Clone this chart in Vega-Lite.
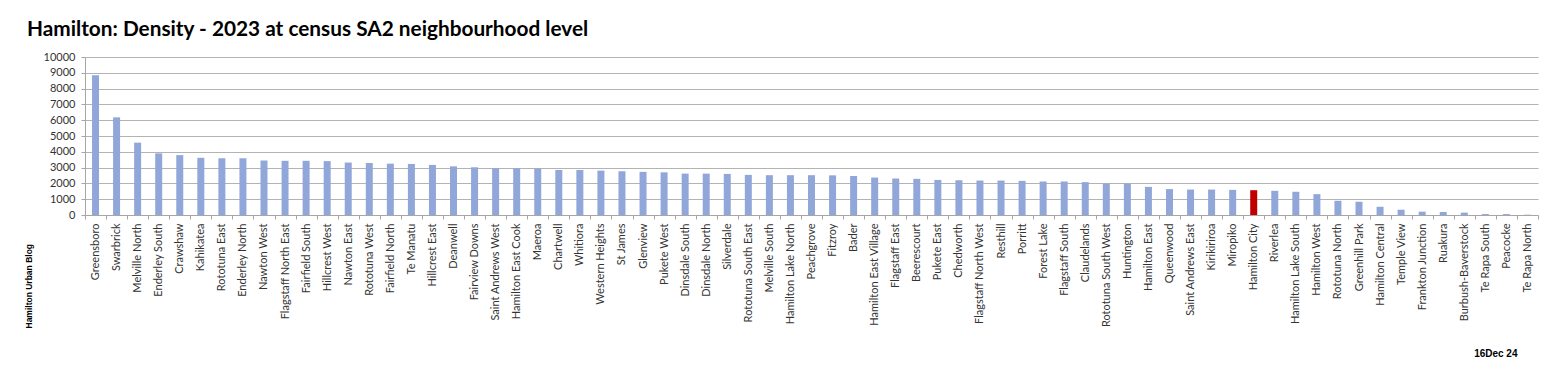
{
  "$schema": "https://vega.github.io/schema/vega-lite/v6.json",
  "width": 1453,
  "height": 158,
  "autosize": {"type": "none"},
  "padding": {"left": 85, "top": 57, "right": 21, "bottom": 161},
  "background": "white",
  "title": {
    "text": "Hamilton: Density - 2023 at census SA2 neighbourhood level",
    "anchor": "start",
    "frame": "group",
    "font": "Lato",
    "fontSize": 20.8,
    "fontWeight": "bold",
    "color": "#000000",
    "dx": -58,
    "offset": 10
  },
  "data": {
    "values": [
      {"area": "Greensboro", "density": 8850, "kind": "SA2"},
      {"area": "Swarbrick", "density": 6180, "kind": "SA2"},
      {"area": "Melville North", "density": 4580, "kind": "SA2"},
      {"area": "Enderley South", "density": 3900, "kind": "SA2"},
      {"area": "Crawshaw", "density": 3790, "kind": "SA2"},
      {"area": "Kahikatea", "density": 3620, "kind": "SA2"},
      {"area": "Rototuna East", "density": 3590, "kind": "SA2"},
      {"area": "Enderley North", "density": 3590, "kind": "SA2"},
      {"area": "Nawton West", "density": 3450, "kind": "SA2"},
      {"area": "Flagstaff North East", "density": 3430, "kind": "SA2"},
      {"area": "Fairfield South", "density": 3430, "kind": "SA2"},
      {"area": "Hillcrest West", "density": 3410, "kind": "SA2"},
      {"area": "Nawton East", "density": 3320, "kind": "SA2"},
      {"area": "Rototuna West", "density": 3290, "kind": "SA2"},
      {"area": "Fairfield North", "density": 3250, "kind": "SA2"},
      {"area": "Te Manatu", "density": 3230, "kind": "SA2"},
      {"area": "Hillcrest East", "density": 3170, "kind": "SA2"},
      {"area": "Deanwell", "density": 3080, "kind": "SA2"},
      {"area": "Fairview Downs", "density": 3020, "kind": "SA2"},
      {"area": "Saint Andrews West", "density": 2960, "kind": "SA2"},
      {"area": "Hamilton East Cook", "density": 2960, "kind": "SA2"},
      {"area": "Maeroa", "density": 2940, "kind": "SA2"},
      {"area": "Chartwell", "density": 2850, "kind": "SA2"},
      {"area": "Whitiora", "density": 2850, "kind": "SA2"},
      {"area": "Western Heights", "density": 2810, "kind": "SA2"},
      {"area": "St James", "density": 2770, "kind": "SA2"},
      {"area": "Glenview", "density": 2730, "kind": "SA2"},
      {"area": "Pukete West", "density": 2700, "kind": "SA2"},
      {"area": "Dinsdale South", "density": 2620, "kind": "SA2"},
      {"area": "Dinsdale North", "density": 2620, "kind": "SA2"},
      {"area": "Silverdale", "density": 2600, "kind": "SA2"},
      {"area": "Rototuna South East", "density": 2540, "kind": "SA2"},
      {"area": "Melville South", "density": 2520, "kind": "SA2"},
      {"area": "Hamilton Lake North", "density": 2520, "kind": "SA2"},
      {"area": "Peachgrove", "density": 2520, "kind": "SA2"},
      {"area": "Fitzroy", "density": 2510, "kind": "SA2"},
      {"area": "Bader", "density": 2470, "kind": "SA2"},
      {"area": "Hamilton East Village", "density": 2370, "kind": "SA2"},
      {"area": "Flagstaff East", "density": 2310, "kind": "SA2"},
      {"area": "Beerescourt", "density": 2290, "kind": "SA2"},
      {"area": "Pukete East", "density": 2220, "kind": "SA2"},
      {"area": "Chedworth", "density": 2200, "kind": "SA2"},
      {"area": "Flagstaff North West", "density": 2180, "kind": "SA2"},
      {"area": "Resthill", "density": 2180, "kind": "SA2"},
      {"area": "Porritt", "density": 2160, "kind": "SA2"},
      {"area": "Forest Lake", "density": 2120, "kind": "SA2"},
      {"area": "Flagstaff South", "density": 2120, "kind": "SA2"},
      {"area": "Claudelands", "density": 2080, "kind": "SA2"},
      {"area": "Rototuna South West", "density": 1990, "kind": "SA2"},
      {"area": "Huntington", "density": 1990, "kind": "SA2"},
      {"area": "Hamilton East", "density": 1780, "kind": "SA2"},
      {"area": "Queenwood", "density": 1640, "kind": "SA2"},
      {"area": "Saint Andrews East", "density": 1610, "kind": "SA2"},
      {"area": "Kirikiriroa", "density": 1610, "kind": "SA2"},
      {"area": "Miropiko", "density": 1590, "kind": "SA2"},
      {"area": "Hamilton City", "density": 1570, "kind": "City"},
      {"area": "Riverlea", "density": 1530, "kind": "SA2"},
      {"area": "Hamilton Lake South", "density": 1470, "kind": "SA2"},
      {"area": "Hamilton West", "density": 1320, "kind": "SA2"},
      {"area": "Rototuna North", "density": 900, "kind": "SA2"},
      {"area": "Greenhill Park", "density": 840, "kind": "SA2"},
      {"area": "Hamilton Central", "density": 520, "kind": "SA2"},
      {"area": "Temple View", "density": 335, "kind": "SA2"},
      {"area": "Frankton Junction", "density": 210, "kind": "SA2"},
      {"area": "Ruakura", "density": 190, "kind": "SA2"},
      {"area": "Burbush-Baverstock", "density": 150, "kind": "SA2"},
      {"area": "Te Rapa South", "density": 60, "kind": "SA2"},
      {"area": "Peacocke", "density": 60, "kind": "SA2"},
      {"area": "Te Rapa North", "density": 20, "kind": "SA2"}
    ]
  },
  "mark": {"type": "bar", "size": 7},
  "encoding": {
    "x": {
      "field": "area",
      "type": "nominal",
      "sort": null,
      "scale": {"paddingInner": 0, "paddingOuter": 0},
      "axis": {
        "title": "16Dec 24",
        "titleFont": "Liberation Sans",
        "titleFontSize": 10,
        "titleFontWeight": "bold",
        "titleColor": "#000000",
        "titleAnchor": null,
        "titleX": 1432,
        "titleY": 141,
        "titleAlign": "right",
        "titleBaseline": "alphabetic",
        "labelAngle": -90,
        "labelAlign": "right",
        "labelBaseline": "middle",
        "labelFont": "Lato",
        "labelFontSize": 11,
        "labelColor": "#333333",
        "labelPadding": 4,
        "labelOverlap": false,
        "tickBand": "extent",
        "tickSize": 4,
        "tickColor": "#a6a6a6",
        "domainColor": "#a6a6a6",
        "grid": false
      }
    },
    "y": {
      "field": "density",
      "type": "quantitative",
      "scale": {"domain": [0, 10000], "nice": false},
      "axis": {
        "values": [0, 1000, 2000, 3000, 4000, 5000, 6000, 7000, 8000, 9000, 10000],
        "format": "d",
        "title": "Hamilton Urban Blog",
        "titleFont": "Liberation Sans",
        "titleFontSize": 8.5,
        "titleFontWeight": "bold",
        "titleColor": "#000000",
        "titleAngle": -90,
        "titleAnchor": null,
        "titleX": -57,
        "titleY": 271,
        "titleAlign": "left",
        "titleBaseline": "middle",
        "labelFont": "Lato",
        "labelFontSize": 11,
        "labelColor": "#333333",
        "labelPadding": 6,
        "tickSize": 4,
        "tickColor": "#a6a6a6",
        "domainColor": "#a6a6a6",
        "grid": true,
        "gridColor": "#b3b3b3",
        "gridWidth": 1
      }
    },
    "color": {
      "field": "kind",
      "type": "nominal",
      "scale": {"domain": ["SA2", "City"], "range": ["#91a7d9", "#c00000"]},
      "legend": null
    }
  },
  "config": {
    "view": {"stroke": null},
    "axis": {"gridOpacity": 1}
  }
}
